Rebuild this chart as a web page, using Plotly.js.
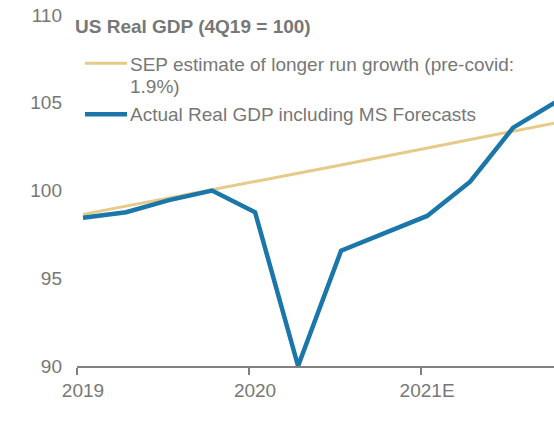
<!DOCTYPE html>
<html>
<head>
<meta charset="utf-8">
<script src="https://cdn.plot.ly/plotly-3.0.1.min.js"></script>
<style>html,body{margin:0;padding:0;background:#fff;}#chart{width:554px;height:441px;}</style>
</head>
<body>
<div id="chart"></div>
<script>
// Quarters 1Q19 .. 4Q21
const quarters = ['1Q19','2Q19','3Q19','4Q19','1Q20','2Q20','3Q20','4Q20','1Q21','2Q21','3Q21','4Q21'];
const sepEstimate = [98.64, 99.10, 99.57, 100.04, 100.51, 100.98, 101.45, 101.93, 102.41, 102.89, 103.38, 103.86];
const actualGdp   = [98.45, 98.76, 99.45, 100.0, 98.76, 90.0, 96.57, 97.58, 98.55, 100.5, 103.58, 105.05];
const tickLabels = ['2019', '2020', '2021E'];
const tickQuarters = ['1Q19', '1Q20', '1Q21'];
const seriesNameLines = [['SEP estimate of longer run growth (pre-covid:', '1.9%)'], ['Actual Real GDP including MS Forecasts']];
const chartTitle = 'US Real GDP (4Q19 = 100)';

const xIdx = quarters.map((q, i) => i);
const tickPos = tickQuarters.map(q => quarters.indexOf(q) - 0.14);

const textGray = '#777777';
const fam = 'Liberation Sans, Arial, sans-serif';
const colors = ['#e5ca88', '#1b76a9'];
const widths = [3, 4.5];

const traces = [
  {x: xIdx, y: sepEstimate, type: 'scatter', mode: 'lines', name: seriesNameLines[0].join(' '),
   line: {color: colors[0], width: widths[0]}},
  {x: xIdx, y: actualGdp, type: 'scatter', mode: 'lines', name: seriesNameLines[1].join(' '),
   line: {color: colors[1], width: widths[1]}}
];

// plot area geometry (pixels) for the hand-placed legend
const L = 77, T = 15, W = 554 - 77, H = 441 - 15 - 75;
const px = v => (v - L) / W;
const py = v => (T + H - v) / H;

const legendFont = {family: fam, size: 19, color: textGray};
const annotations = [
  {text: '<b>' + chartTitle + '</b>', xref: 'paper', yref: 'paper', x: px(73), y: py(27),
   xanchor: 'left', yanchor: 'middle', showarrow: false, font: legendFont},
  {text: seriesNameLines[0][0], xref: 'paper', yref: 'paper', x: px(128), y: py(64),
   xanchor: 'left', yanchor: 'middle', showarrow: false, font: legendFont},
  {text: seriesNameLines[0][1], xref: 'paper', yref: 'paper', x: px(128), y: py(86),
   xanchor: 'left', yanchor: 'middle', showarrow: false, font: legendFont},
  {text: seriesNameLines[1][0], xref: 'paper', yref: 'paper', x: px(128), y: py(114),
   xanchor: 'left', yanchor: 'middle', showarrow: false, font: legendFont}
];
const shapes = [
  {type: 'line', xref: 'paper', yref: 'paper', x0: px(85), x1: px(127), y0: py(63.3), y1: py(63.3),
   line: {color: colors[0], width: widths[0]}},
  {type: 'line', xref: 'paper', yref: 'paper', x0: px(85), x1: px(127), y0: py(114.3), y1: py(114.3),
   line: {color: colors[1], width: widths[1]}}
];

const layout = {
  width: 554, height: 441,
  margin: {l: L, r: 0, t: T, b: 75},
  paper_bgcolor: '#fff', plot_bgcolor: '#fff',
  font: {family: fam, size: 19, color: textGray},
  showlegend: false,
  annotations: annotations,
  shapes: shapes,
  xaxis: {
    range: [-0.14, 10.95],
    tickmode: 'array', tickvals: tickPos, ticktext: tickLabels,
    ticks: 'outside', ticklen: 7, tickwidth: 1.5, tickcolor: '#808080',
    showline: true, linecolor: '#808080', linewidth: 1.5,
    showgrid: false, zeroline: false,
    ticklabelshift: 6,
    tickfont: {family: fam, size: 19, color: textGray}
  },
  yaxis: {
    range: [90, 110], tickvals: [90, 95, 100, 105, 110],
    showgrid: false, zeroline: false, showline: false, ticks: '',
    ticklabelstandoff: 14,
    tickfont: {family: fam, size: 19, color: textGray}
  }
};

Plotly.newPlot('chart', traces, layout, {displayModeBar: false, staticPlot: true});
</script>
</body>
</html>
